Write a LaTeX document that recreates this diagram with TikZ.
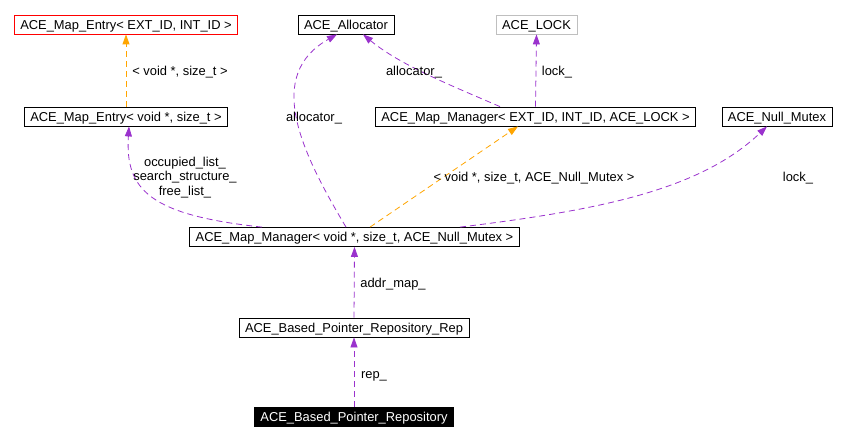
\documentclass[tikz,border=0pt]{standalone}
\usepackage{fontspec}
\setmainfont{Liberation Sans}
\usetikzlibrary{arrows.meta}
\definecolor{purp}{HTML}{9A32CD}
\definecolor{orng}{HTML}{FFA500}
\definecolor{lgray}{HTML}{BFBFBF}
\begin{document}
\begin{tikzpicture}[x=1pt,y=-1pt,
 cls/.style={draw=black,line width=0.8pt,inner xsep=6pt,inner ysep=0pt,minimum height=19pt,text height=9.3pt,text depth=0pt,font=\fontsize{12.9}{15}\selectfont,anchor=center},
 lbl/.style={font=\fontsize{12.9}{14.5}\selectfont,inner sep=0pt,align=center},
 use/.style={draw=purp,dash pattern=on 6pt off 4pt,line width=0.8pt,-{Triangle[length=10pt,width=7pt]}},
 inh/.style={draw=orng,dash pattern=on 6pt off 4pt,line width=0.8pt,-{Triangle[length=10pt,width=7pt]}}]
\useasboundingbox (0,0) rectangle (845,441);
\node[cls,draw=red] (mee) at (126,24.5) {ACE\_Map\_Entry< EXT\_ID, INT\_ID >};
\node[cls] (alloc) at (346,24.5) {ACE\_Allocator};
\node[cls,draw=lgray] (lock) at (536.5,24.5) {ACE\_LOCK};
\node[cls] (mev) at (126,116.5) {ACE\_Map\_Entry< void *, size\_t >};
\node[cls] (mme) at (535.5,116.5) {ACE\_Map\_Manager< EXT\_ID, INT\_ID, ACE\_LOCK >};
\node[cls] (nm) at (777,116.5) {ACE\_Null\_Mutex};
\node[cls] (mmv) at (354.5,237) {ACE\_Map\_Manager< void *, size\_t, ACE\_Null\_Mutex >};
\node[cls] (rep) at (354,327.5) {ACE\_Based\_Pointer\_Repository\_Rep};
\node[cls,fill=black,text=white] (repo) at (354,416.5) {ACE\_Based\_Pointer\_Repository};

\draw[inh] (mev.north) -- (mee.south);
\draw[use] ([xshift=-92.5pt]mmv.north) .. controls (150,215) and (125,190) .. ([xshift=3pt]mev.south);
\draw[use] ([xshift=-8.5pt]mmv.north) .. controls (300,150) and (265,75) .. ([xshift=-9pt]alloc.south);
\draw[use] ([xshift=-35.5pt]mme.north) .. controls (450,85) and (400,65) .. ([xshift=17pt]alloc.south);
\draw[use] (mme.north) -- (lock.south);
\draw[inh] ([xshift=15.5pt]mmv.north) -- ([xshift=-17.5pt]mme.south);
\draw[use] ([xshift=105.5pt]mmv.north) .. controls (600,210) and (700,190) .. ([xshift=-10pt]nm.south);
\draw[use] (rep.north) -- (mmv.south);
\draw[use] (repo.north) -- (rep.south);

\node[lbl] (l1) at (180,72) {< void *, size\_t >};
\node[lbl] (l2) at (185,177.5) {occupied\_list\_\\search\_structure\_\\free\_list\_};
\node[lbl] (l3) at (314,118) {allocator\_};
\node[lbl] (l4) at (414,72) {allocator\_};
\node[lbl] (l5) at (557,72) {lock\_};
\node[lbl] (l6) at (534,178) {< void *, size\_t, ACE\_Null\_Mutex >};
\node[lbl] (l7) at (798,178) {lock\_};
\node[lbl] (l8) at (393,284) {addr\_map\_};
\node[lbl] (l9) at (374,376) {rep\_};
\end{tikzpicture}
\end{document}
